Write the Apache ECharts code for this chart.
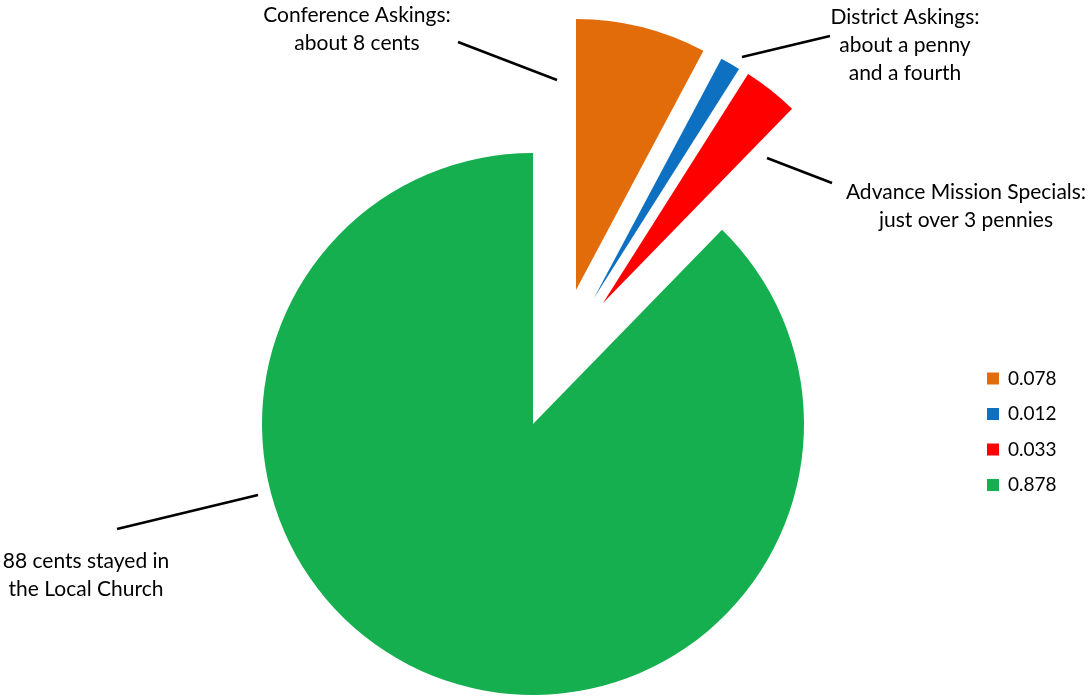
<!DOCTYPE html>
<html>
<head>
<meta charset="utf-8">
<script src="https://cdn.jsdelivr.net/npm/echarts@6/dist/echarts.min.js"></script>
<style>
html,body{margin:0;padding:0;background:#fff;}
#chart{width:1090px;height:698px;}
</style>
</head>
<body>
<div id="chart"></div>
<script>
// ---- data ----
const categories = ['0.078', '0.012', '0.033', '0.878'];
const values = [0.078, 0.012, 0.033, 0.878];
const labelTexts = [
  'Conference Askings:\nabout 8 cents',
  'District Askings:\nabout a penny\nand a fourth',
  'Advance Mission Specials:\njust over 3 pennies',
  '88 cents stayed in\nthe Local Church'
];

// ---- style / layout ----
const colors = ['#E36C0A', '#0E70C0', '#FF0000', '#16AF4F'];
const FONT = 'Lato';
const RADIUS = 271;
// pie centre for each slice (exploded slices are shifted)
const sliceCenters = [[576, 290], [594, 298], [603, 303], [533, 424]];
// label block centre and leader line end points
const labelPlaces = [
  {x: 357, y: 29, line: [[458, 42], [557, 80]]},
  {x: 905, y: 45, line: [[742, 57], [830, 36]]},
  {x: 966, y: 206, line: [[767, 158], [832, 183]]},
  {x: 86, y: 575, line: [[117, 529], [258, 495]]}
];

const chart = echarts.init(document.getElementById('chart'), null, {renderer: 'canvas'});

function buildSeries(visibleIdx) {
  return {
    type: 'pie',
    name: 's' + visibleIdx,
    center: sliceCenters[visibleIdx],
    radius: RADIUS,
    startAngle: 90,
    clockwise: true,
    avoidLabelOverlap: false,
    silent: true,
    animation: false,
    emphasis: {disabled: true},
    data: categories.map((c, i) => {
      const vis = i === visibleIdx;
      return {
        name: c,
        value: values[i],
        itemStyle: {color: vis ? colors[i] : 'rgba(0,0,0,0)', borderWidth: 0},
        label: vis ? {
          show: true,
          formatter: labelTexts[i],
          color: '#000',
          fontFamily: FONT,
          fontSize: 21,
          lineHeight: 28,
          overflow: 'none'
        } : {show: false},
        labelLine: vis ? {show: true, lineStyle: {color: '#000', width: 2.5}} : {show: false}
      };
    }),
    labelLayout: function (params) {
      if (params.dataIndex !== visibleIdx) return {};
      const p = labelPlaces[visibleIdx];
      return {
        x: p.x,
        y: p.y,
        align: 'center',
        verticalAlign: 'middle',
        labelLinePoints: [p.line[0], p.line[1], p.line[1]]
      };
    }
  };
}

const option = {
  backgroundColor: '#fff',
  animation: false,
  legend: {
    orient: 'vertical',
    left: 982,
    top: 364,
    icon: 'rect',
    itemWidth: 12,
    itemHeight: 12,
    itemGap: 16.5,
    selectedMode: false,
    textStyle: {fontFamily: FONT, fontSize: 19, color: '#000', padding: [0, 0, 0, 4]},
    data: categories.map((c, i) => ({name: c, itemStyle: {color: colors[i]}}))
  },
  series: [buildSeries(3), buildSeries(0), buildSeries(1), buildSeries(2)]
};
chart.setOption(option);
</script>
</body>
</html>
